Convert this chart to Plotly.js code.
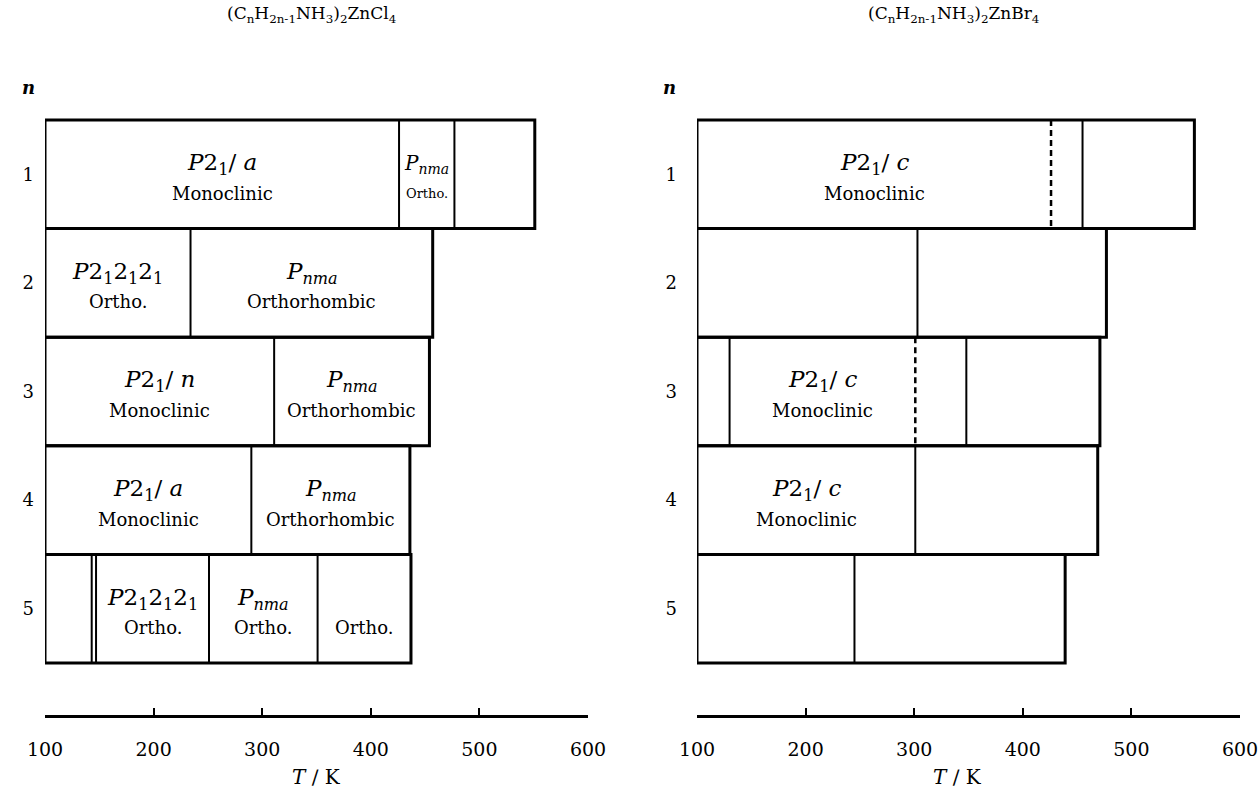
<!DOCTYPE html>
<html>
<head>
<meta charset="utf-8">
<script src="https://cdn.plot.ly/plotly-3.0.1.min.js"></script>
<style>html,body{margin:0;padding:0;background:#fff;}#chart{width:1259px;height:792px;}</style>
</head>
<body>
<div id="chart"></div>
<script>
// ---------------- data ----------------
const rowsN = [1, 2, 3, 4, 5];
const tickT = [100, 200, 300, 400, 500, 600];
const rowLabels = ['1', '2', '3', '4', '5'];
const lowT = 100; // every row starts at 100 K

// (CnH2n-1NH3)2ZnCl4
const clTitle = '(C<sub>n</sub>H<sub>2n-1</sub>NH<sub>3</sub>)<sub>2</sub>ZnCl<sub>4</sub>';
const clRowEnd = [551, 457, 454, 436, 437];
const clTransitions = [[426, 477], [234], [311], [290], [143, 147, 251, 351]];
const clDashedTransitions = [[], [], [], [], []];
const clGroups = [
  ['<i>P</i>2<sub>1</sub>/ <i>a</i>', '<i>P</i><sub><i>nma</i></sub>', ''],
  ['<i>P</i>2<sub>1</sub>2<sub>1</sub>2<sub>1</sub>', '<i>P</i><sub><i>nma</i></sub>'],
  ['<i>P</i>2<sub>1</sub>/ <i>n</i>', '<i>P</i><sub><i>nma</i></sub>'],
  ['<i>P</i>2<sub>1</sub>/ <i>a</i>', '<i>P</i><sub><i>nma</i></sub>'],
  ['', '', '<i>P</i>2<sub>1</sub>2<sub>1</sub>2<sub>1</sub>', '<i>P</i><sub><i>nma</i></sub>', '']
];
const clSystems = [
  ['Monoclinic', 'Ortho.', ''],
  ['Ortho.', 'Orthorhombic'],
  ['Monoclinic', 'Orthorhombic'],
  ['Monoclinic', 'Orthorhombic'],
  ['', '', 'Ortho.', 'Ortho.', 'Ortho.']
];

// (CnH2n-1NH3)2ZnBr4
const brTitle = '(C<sub>n</sub>H<sub>2n-1</sub>NH<sub>3</sub>)<sub>2</sub>ZnBr<sub>4</sub>';
const brRowEnd = [558, 477, 471, 469, 439];
const brTransitions = [[455], [303], [130, 348], [301], [245]];
const brDashedTransitions = [[426], [], [301], [], []];
const brGroups = [
  ['<i>P</i>2<sub>1</sub>/ <i>c</i>', '', ''],
  ['', ''],
  ['', '<i>P</i>2<sub>1</sub>/ <i>c</i>', '', ''],
  ['<i>P</i>2<sub>1</sub>/ <i>c</i>', ''],
  ['', '']
];
const brSystems = [
  ['Monoclinic', '', ''],
  ['', ''],
  ['', 'Monoclinic', '', ''],
  ['Monoclinic', ''],
  ['', '']
];

// ---------------- drawing ----------------
const FONT = 'DejaVu Serif, Liberation Serif, serif';
const traces = [];
const annotations = [];

function panel(xa, ya, rowEnd, trans, dashed, groups, systems) {
  const bx = [], by = [];
  const sx = [], sy = [];
  const dx = [], dy = [];
  rowsN.forEach((n, i) => {
    bx.push(lowT, rowEnd[i], rowEnd[i], lowT, lowT, null);
    by.push(n - 0.5, n - 0.5, n + 0.5, n + 0.5, n - 0.5, null);
    trans[i].forEach(t => { sx.push(t, t, null); sy.push(n - 0.5, n + 0.5, null); });
    dashed[i].forEach(t => { dx.push(t, t, null); dy.push(n - 0.5, n + 0.5, null); });
    const bounds = [lowT].concat(trans[i], dashed[i]).sort((a, b) => a - b).concat([rowEnd[i]]);
    for (let c = 0; c < bounds.length - 1; c++) {
      const mid = (bounds[c] + bounds[c + 1]) / 2;
      const narrow = (bounds[c + 1] - bounds[c]) < 70;
      const g = groups[i][c], s = systems[i][c];
      if (g) annotations.push({x: mid, y: n, xref: xa, yref: ya, text: g, showarrow: false,
        yshift: 10, font: {family: FONT, size: narrow ? 20 : 23, color: '#000'}});
      if (s) annotations.push({x: mid, y: n, xref: xa, yref: ya, text: s, showarrow: false,
        yshift: -19, font: {family: FONT, size: narrow ? 13 : 18, color: '#000'}});
    }
  });
  traces.push({x: bx, y: by, xaxis: xa, yaxis: ya, mode: 'lines', type: 'scatter',
    line: {color: '#000', width: 3}, hoverinfo: 'skip', cliponaxis: false});
  traces.push({x: sx, y: sy, xaxis: xa, yaxis: ya, mode: 'lines', type: 'scatter',
    line: {color: '#000', width: 2}, hoverinfo: 'skip', cliponaxis: false});
  if (dx.length) traces.push({x: dx, y: dy, xaxis: xa, yaxis: ya, mode: 'lines', type: 'scatter',
    line: {color: '#000', width: 2.5, dash: '6px,4px'}, hoverinfo: 'skip', cliponaxis: false});
}

panel('x', 'y', clRowEnd, clTransitions, clDashedTransitions, clGroups, clSystems);
panel('x2', 'y2', brRowEnd, brTransitions, brDashedTransitions, brGroups, brSystems);

const W = 1259, H = 792;
const yDom = [1 - 715 / H, 1 - 110 / H];
const yRange = [5.979, 0.408];

function xAxis(dom) {
  return {domain: dom, range: [100, 600], showgrid: false, zeroline: false,
    showline: true, linecolor: '#000', linewidth: 2.5, ticks: 'inside', ticklen: 7,
    tickwidth: 2, tickcolor: '#000', tickvals: tickT, ticktext: tickT.map(String),
    ticklabelstandoff: 16, tickfont: {family: FONT, size: 19, color: '#000'}, fixedrange: true};
}
function yAxis(anchor, standoff) {
  return {domain: yDom, range: yRange, anchor: anchor, showgrid: false, zeroline: false,
    showline: false, ticks: '', tickvals: rowsN, ticktext: rowLabels,
    ticklabelstandoff: standoff, tickfont: {family: FONT, size: 18, color: '#000'}, fixedrange: true};
}

const xDom1 = [45 / W, 588 / W];
const xDom2 = [697 / W, 1240 / W];

annotations.push(
  {x: 311 / W, y: 1 - 15 / H, xref: 'paper', yref: 'paper', xanchor: 'center', yanchor: 'middle', text: clTitle, showarrow: false,
    font: {family: FONT, size: 17, color: '#000'}},
  {x: 953 / W, y: 1 - 15 / H, xref: 'paper', yref: 'paper', xanchor: 'center', yanchor: 'middle', text: brTitle, showarrow: false,
    font: {family: FONT, size: 17, color: '#000'}},
  {x: 28 / W, y: 1 - 87 / H, xref: 'paper', yref: 'paper', xanchor: 'center', yanchor: 'middle', text: '<b><i>n</i></b>', showarrow: false,
    font: {family: FONT, size: 18, color: '#000'}},
  {x: 669 / W, y: 1 - 87 / H, xref: 'paper', yref: 'paper', xanchor: 'center', yanchor: 'middle', text: '<b><i>n</i></b>', showarrow: false,
    font: {family: FONT, size: 18, color: '#000'}},
  {x: 0.5, y: 1 - 777 / H, xref: 'x domain', yref: 'paper', xanchor: 'center', yanchor: 'middle', text: '<i>T</i> ∕ K', showarrow: false,
    font: {family: FONT, size: 20, color: '#000'}},
  {x: 0.48, y: 1 - 777 / H, xref: 'x2 domain', yref: 'paper', xanchor: 'center', yanchor: 'middle', text: '<i>T</i> ∕ K', showarrow: false,
    font: {family: FONT, size: 20, color: '#000'}}
);

const layout = {
  width: W, height: H, margin: {l: 0, r: 0, t: 0, b: 0},
  paper_bgcolor: '#fff', plot_bgcolor: '#fff', showlegend: false,
  xaxis: Object.assign(xAxis(xDom1), {anchor: 'y'}),
  yaxis: yAxis('x', 10),
  xaxis2: Object.assign(xAxis(xDom2), {anchor: 'y2'}),
  yaxis2: yAxis('x2', 19),
  annotations: annotations
};

Plotly.newPlot('chart', traces, layout, {staticPlot: true, displayModeBar: false});
</script>
</body>
</html>
